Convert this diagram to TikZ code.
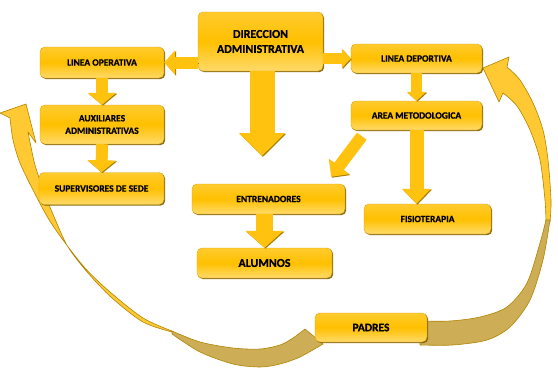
\documentclass[tikz,border=0pt]{standalone}
\usepackage{fontspec}
\setmainfont{Carlito}[BoldFont={Carlito Bold}, BoldFeatures={FakeBold=0.9}]
\usepackage{tikz}
\usetikzlibrary{positioning, arrows.meta, calc, shadows}
\definecolor{boxTop}{HTML}{FFCB2E}
\definecolor{boxMid}{HTML}{FFC000}
\definecolor{boxBot}{HTML}{FFDA6A}
\definecolor{boxEdge}{HTML}{D9A300}
\definecolor{boxShade}{HTML}{7A5C00}
\definecolor{arrowGold}{HTML}{FFC20F}
\definecolor{arrowShade}{HTML}{A67C00}
\definecolor{ribbonFront}{HTML}{FFC933}
\definecolor{ribbonBack}{HTML}{CDAE57}
\definecolor{ribbonEdge}{HTML}{B08400}
\tikzset{
  orgbox/.style={rectangle, rounded corners=5pt, draw=boxEdge, line width=0.4pt,
    top color=boxTop, bottom color=boxBot, middle color=boxMid,
    drop shadow={shadow xshift=1.2pt, shadow yshift=-1.2pt, fill=boxShade, opacity=0.9},
    align=center, inner sep=2pt, font=\fontsize{9.5}{12.5}\selectfont\bfseries},
  bigbox/.style={orgbox, font=\fontsize{12}{15}\selectfont\bfseries},
  fatarrow/.style n args={3}{draw=arrowGold, line width=#1,
    -{Triangle[width=#2, length=#3]},
    preaction={draw=arrowShade, transform canvas={xshift=0.9pt, yshift=-0.9pt}}},
  ribbon/.style={draw=ribbonEdge, line width=0.6pt, line join=round},
}

\begin{document}
\begin{tikzpicture}[x=1pt, y=-1pt]
    \useasboundingbox (0,0) rectangle (558,378);
    % curved ribbons from padres
    \filldraw[ribbon, fill=ribbonFront]
      plot[smooth] coordinates {(10,118) (13,140) (20,163) (33,190) (48,218) (63,240)
        (85,268) (110,292) (143,318) (172,331)}
      -- plot[smooth] coordinates {(172,332) (143,322) (112,298) (88,273) (68,247)
        (55,219) (44,192) (35,165) (31,147) (28,132)}
      -- (36,143) -- (26,104) -- (0,113) -- cycle;
    \filldraw[ribbon, fill=ribbonBack]
      plot[smooth] coordinates {(172,331) (200,342) (233,348) (260,349) (280,345)
        (293,338) (305,329)}
      -- plot[smooth] coordinates {(323,344) (300,357) (280,364) (260,367) (233,364)
        (200,352) (172,334)} -- cycle;
    \filldraw[ribbon, fill=ribbonFront]
      (483,68) -- (509,57) -- (507,67)
      -- plot[smooth] coordinates {(507,67) (520,80) (533,103) (543,130) (548,160)
        (551,200) (550,222)}
      -- plot[smooth] coordinates {(546,222) (545,200) (540,160) (530,130) (517,106)
        (503,93)}
      -- (499,102) -- cycle;
    \filldraw[ribbon, fill=ribbonBack]
      plot[smooth] coordinates {(550,220) (543,260) (530,300) (510,327) (487,340)
        (453,345) (420,345)}
      -- plot[smooth] coordinates {(420,321) (450,321) (480,317) (507,307) (527,283)
        (540,243) (546,220)} -- cycle;
    % boxes
    \node[bigbox, minimum width=125pt, minimum height=59pt] (dir) at (260.5,41.5)
      {DIRECCION\\ADMINISTRATIVA};
    \node[orgbox, minimum width=124pt, minimum height=31pt] (lop) at (102,62.5)
      {LINEA OPERATIVA};
    \node[orgbox, minimum width=124pt, minimum height=39pt] (aux) at (102,124.5)
      {AUXILIARES\\ADMINISTRATIVAS};
    \node[orgbox, minimum width=125pt, minimum height=32pt] (sup) at (101.5,188.5)
      {SUPERVISORES DE SEDE};
    \node[orgbox, minimum width=131pt, minimum height=29pt] (ldep) at (416.5,58.5)
      {LINEA DEPORTIVA};
    \node[orgbox, minimum width=131pt, minimum height=29pt] (area) at (416.5,115.5)
      {AREA METODOLOGICA};
    \node[orgbox, minimum width=153pt, minimum height=30pt] (ent) at (268.5,199)
      {ENTRENADORES};
    \node[bigbox, minimum width=135pt, minimum height=30pt] (alu) at (264.5,263)
      {ALUMNOS};
    \node[orgbox, minimum width=127pt, minimum height=30pt] (fis) at (427.5,219)
      {FISIOTERAPIA};
    \node[bigbox, minimum width=112pt, minimum height=29pt,
          font=\fontsize{11.5}{14}\selectfont\bfseries] (pad) at (371,327.5) {PADRES};
    % block arrows
    \coordinate (dirtip) at (262,156);
    \coordinate (metstart) at ($(area.south west)+(11,6)$);
    \coordinate (metend) at ($(ent.north east)+(-14,-7)$);
    \draw[fatarrow={12pt}{24pt}{11pt}] (dir.west |- lop.east) -- (lop.east);
    \draw[fatarrow={11pt}{19pt}{9pt}] (dir.east |- ldep.west) -- (ldep.west);
    \draw[fatarrow={25pt}{45pt}{23pt}] (dir.south -| dirtip) -- (dirtip);
    \draw[fatarrow={12pt}{28pt}{12pt}] (lop.south) -- (aux.north);
    \draw[fatarrow={12pt}{28pt}{12pt}] (aux.south) -- (sup.north);
    \draw[fatarrow={11pt}{19pt}{9pt}] (ldep.south) -- (area.north);
    \draw[fatarrow={14pt}{28pt}{15pt}] (area.south) -- (area.south |- fis.north);
    \draw[fatarrow={12pt}{25pt}{13pt}] (metstart) -- (metend);
    \draw[fatarrow={17pt}{37pt}{17pt}] (ent.south -| alu) -- (alu.north);
\end{tikzpicture}
\end{document}
